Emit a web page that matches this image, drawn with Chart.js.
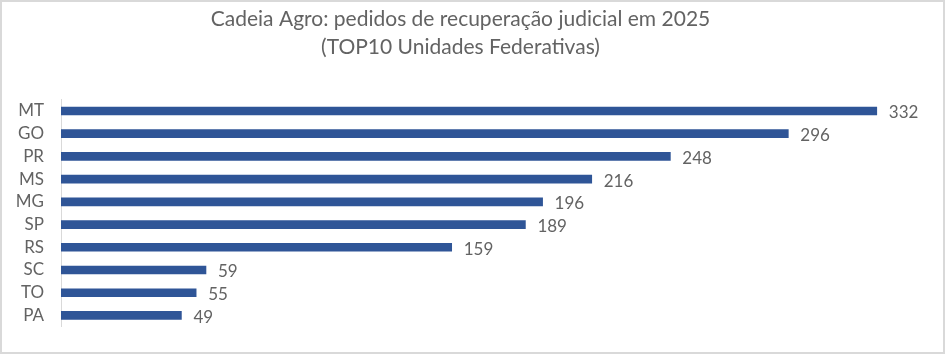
<!DOCTYPE html>
<html>
<head>
<meta charset="utf-8">
<script src="https://cdn.jsdelivr.net/npm/chart.js@4/dist/chart.umd.min.js"></script>
<style>
html,body{margin:0;padding:0;background:#fff;}
#wrap{width:945px;height:354px;position:relative;}
</style>
</head>
<body>
<div id="wrap"><canvas id="c" width="945" height="354"></canvas></div>
<script>
const categories = ["MT","GO","PR","MS","MG","SP","RS","SC","TO","PA"];
const values = [332,296,248,216,196,189,159,59,55,49];
const titleLines = ["Cadeia Agro: pedidos de recuperação judicial em 2025","(TOP10 Unidades Federativas)"];

const FONT = "Lato, 'Open Sans', sans-serif";
const GRAY = "#636363";

const valueLabels = {
  id: "valueLabels",
  afterDatasetsDraw(chart) {
    const ctx = chart.ctx;
    const meta = chart.getDatasetMeta(0);
    ctx.save();
    ctx.font = "17px " + FONT;
    ctx.fillStyle = GRAY;
    ctx.textAlign = "left";
    ctx.textBaseline = "middle";
    meta.data.forEach((bar, i) => {
      ctx.fillText(String(chart.data.datasets[0].data[i]), bar.x + 12, bar.y + 2);
    });
    ctx.restore();
  }
};
const frame = {
  id: "frame",
  beforeDraw(chart) {
    const ctx = chart.ctx;
    ctx.save();
    ctx.fillStyle = "#fff";
    ctx.fillRect(0, 0, chart.width, chart.height);
    ctx.strokeStyle = "#D9D9D9";
    ctx.lineWidth = 2;
    ctx.strokeRect(1, 1, chart.width - 2, chart.height - 2);
    ctx.restore();
  }
};

new Chart(document.getElementById("c"), {
  type: "bar",
  data: {
    labels: categories,
    datasets: [{
      data: values,
      backgroundColor: "#2F5597",
      barThickness: 8
    }]
  },
  options: {
    indexAxis: "y",
    responsive: false,
    animation: false,
    devicePixelRatio: 1,
    layout: { padding: { left: 0, right: 24, top: 0, bottom: 19 } },
    plugins: {
      legend: { display: false },
      tooltip: { enabled: false },
      title: {
        display: true,
        text: titleLines,
        color: GRAY,
        font: { family: FONT, size: 21, weight: "normal", lineHeight: 1.3 },
        padding: { top: 6, bottom: 39 }
      }
    },
    scales: {
      x: { display: false, min: 0, max: 350 },
      y: {
        afterFit(s) { s.width = 61; },
        grid: { display: false, drawTicks: false },
        border: { display: true, color: "#D9D9D9", width: 1 },
        ticks: { color: GRAY, font: { family: FONT, size: 17 }, padding: 17, autoSkip: false }
      }
    }
  },
  plugins: [frame, valueLabels]
});
</script>
</body>
</html>
